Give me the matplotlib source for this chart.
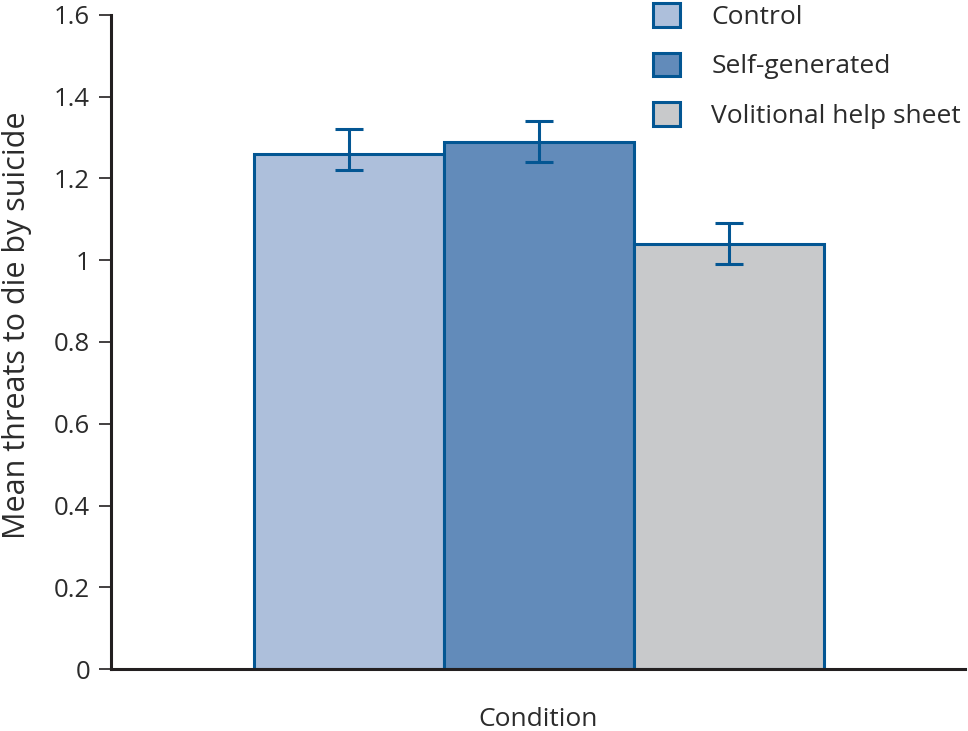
import numpy as np
import matplotlib
matplotlib.use('Agg')
import matplotlib.pyplot as plt

# Data
conditions = ['Control', 'Self-generated', 'Volitional help sheet']
means = [1.26, 1.29, 1.04]
err_low = [0.04, 0.05, 0.05]
err_high = [0.06, 0.05, 0.05]
yticks = [0, 0.2, 0.4, 0.6, 0.8, 1, 1.2, 1.4, 1.6]
ytick_labels = ['0', '0.2', '0.4', '0.6', '0.8', '1', '1.2', '1.4', '1.6']

fills = ['#adbfdb', '#628bba', '#c8c9cb']
edge = '#035693'
txt = '#2b2b2b'

plt.rcParams['font.family'] = ['Open Sans', 'DejaVu Sans']
fs = 18.5

fig = plt.figure(figsize=(9.68, 7.31), dpi=100)
ax = fig.add_axes([0.1147, 0.0848, 0.8822, 0.8947])

x = np.arange(len(conditions))
for i in range(len(conditions)):
    ax.bar(x[i], means[i], width=1.0, color=fills[i], edgecolor=edge,
           linewidth=2.2, label=conditions[i], zorder=2)
ax.errorbar(x, means, yerr=[err_low, err_high], fmt='none', ecolor=edge,
            elinewidth=2.2, capsize=10, capthick=2.2, zorder=3)

ax.set_xlim(-1.253, 3.242)
ax.set_ylim(0, 1.6)
ax.set_yticks(yticks)
ax.set_yticklabels(ytick_labels)
ax.set_xticks([])
for s in ['top', 'right']:
    ax.spines[s].set_visible(False)
for s in ['left', 'bottom']:
    ax.spines[s].set_color('#231f20')
    ax.spines[s].set_linewidth(2.2)
ax.tick_params(axis='y', length=9, width=1.2, color='#231f20',
               labelsize=fs, labelcolor=txt, pad=6)
ax.set_ylabel('Mean threats to die by suicide', fontsize=22, color=txt)
ax.yaxis.set_label_coords(-0.093, 0.525)
ax.set_xlabel('Condition', fontsize=fs + 0.5, color=txt, labelpad=27)

leg = ax.legend(loc='upper right', bbox_to_anchor=(1.014, 1.042), frameon=False,
                fontsize=fs + 0.5, handlelength=1.0, handleheight=1.0,
                handletextpad=1.2, labelspacing=0.85, labelcolor=txt,
                borderaxespad=0.2)

fig.savefig('out.png', dpi=100)
